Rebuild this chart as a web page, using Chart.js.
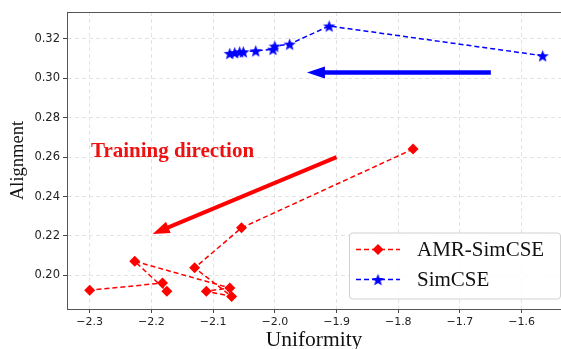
<!DOCTYPE html>
<html>
<head>
<meta charset="utf-8">
<script src="https://cdn.jsdelivr.net/npm/chart.js@4.4.0/dist/chart.umd.min.js"></script>
<style>
  html, body { margin: 0; padding: 0; background: #fff; overflow: hidden; }
  #wrap { width: 561px; height: 349px; }
</style>
</head>
<body>
<div id="wrap"><canvas id="uniformityChart" width="561" height="349"></canvas></div>
<script>
// values
const amrX = [-1.776, -2.054, -2.130, -2.070, -2.111, -2.073, -2.227, -2.175, -2.182, -2.300];
const amrY = [0.2641, 0.2241, 0.2038, 0.1893, 0.1919, 0.1936, 0.2071, 0.1919, 0.1961, 0.1924];
const simX = [-1.566, -1.912, -1.976, -2.000, -2.003, -2.031, -2.051, -2.057, -2.065, -2.073];
const simY = [0.3115, 0.3266, 0.3174, 0.3164, 0.3148, 0.3140, 0.3135, 0.3135, 0.3131, 0.3127];
const xTicks = [-2.3, -2.2, -2.1, -2.0, -1.9, -1.8, -1.7, -1.6];
const yTicks = [0.20, 0.22, 0.24, 0.26, 0.28, 0.30, 0.32];
const seriesNames = ['AMR-SimCSE', 'SimCSE'];

// annotation arrows: [tailX, tailY, tipX, tipY]
const redArrow = [-1.90, 0.260, -2.198, 0.221];
const blueArrow = [-1.65, 0.303, -1.948, 0.303];
const noteText = 'Training direction';
const notePos = [-2.298, 0.2600];

const RED = '#ff0000';
const BLUE = '#0000ff';

// filled five point star used as marker
function makeStar(r, color) {
  const c = document.createElement('canvas');
  const s = Math.ceil(r * 2 + 2);
  c.width = s; c.height = s;
  const g = c.getContext('2d');
  g.fillStyle = color;
  g.beginPath();
  for (let i = 0; i < 10; i++) {
    const rad = i % 2 === 0 ? r : r * 0.42;
    const a = -Math.PI / 2 + i * Math.PI / 5;
    const px = s / 2 + rad * Math.cos(a);
    const py = s / 2 + rad * Math.sin(a) + r * 0.1;
    if (i === 0) g.moveTo(px, py); else g.lineTo(px, py);
  }
  g.closePath();
  g.fill();
  return c;
}
const starImg = makeStar(6.5, BLUE);

function toPoints(xs, ys) {
  return xs.map((x, i) => ({ x: x, y: ys[i] }));
}

function fmt(v, d) {
  return (v < 0 ? '\u2212' : '') + Math.abs(v).toFixed(d);
}

function drawArrow(ctx, x0, y0, x1, y1, color, lw, headLen, headW) {
  const ang = Math.atan2(y1 - y0, x1 - x0);
  const bx = x1 - headLen * Math.cos(ang);
  const by = y1 - headLen * Math.sin(ang);
  ctx.save();
  ctx.strokeStyle = color;
  ctx.fillStyle = color;
  ctx.lineWidth = lw;
  ctx.beginPath();
  ctx.moveTo(x0, y0);
  ctx.lineTo(bx + 2 * Math.cos(ang), by + 2 * Math.sin(ang));
  ctx.stroke();
  ctx.beginPath();
  ctx.moveTo(x1, y1);
  ctx.lineTo(bx + headW / 2 * Math.sin(ang), by - headW / 2 * Math.cos(ang));
  ctx.lineTo(bx - headW / 2 * Math.sin(ang), by + headW / 2 * Math.cos(ang));
  ctx.closePath();
  ctx.fill();
  ctx.restore();
}

const extras = {
  id: 'extras',
  afterDatasetsDraw(chart) {
    const ctx = chart.ctx;
    const xs = chart.scales.x, ys = chart.scales.y;
    const a = chart.chartArea;

    // frame top edge (right edge is cut off in the reference)
    ctx.save();
    ctx.strokeStyle = '#555';
    ctx.lineWidth = 1;
    ctx.beginPath();
    ctx.moveTo(a.left, a.top + 0.5);
    ctx.lineTo(a.right, a.top + 0.5);
    ctx.stroke();
    ctx.restore();

    drawArrow(ctx, xs.getPixelForValue(redArrow[0]), ys.getPixelForValue(redArrow[1]),
      xs.getPixelForValue(redArrow[2]), ys.getPixelForValue(redArrow[3]), RED, 4, 17, 12);
    drawArrow(ctx, xs.getPixelForValue(blueArrow[0]), ys.getPixelForValue(blueArrow[1]),
      xs.getPixelForValue(blueArrow[2]), ys.getPixelForValue(blueArrow[3]), BLUE, 4.5, 18, 12);

    ctx.save();
    ctx.fillStyle = '#ee1111';
    ctx.font = 'bold 21px "Liberation Serif", "Times New Roman", serif';
    ctx.textBaseline = 'alphabetic';
    ctx.fillText(noteText, xs.getPixelForValue(notePos[0]), ys.getPixelForValue(notePos[1]));
    ctx.restore();

    // legend box
    const lx = 349, ly = 232.5, lw = 211, lh = 66;
    ctx.save();
    ctx.fillStyle = 'rgba(255,255,255,0.85)';
    ctx.strokeStyle = '#d0d0d0';
    ctx.lineWidth = 1;
    ctx.beginPath();
    ctx.roundRect(lx + 0.5, ly + 0.5, lw, lh, 3);
    ctx.fill();
    ctx.stroke();
    const rows = [249.5, 279.5];
    chart.data.datasets.forEach((ds, i) => {
      const y = rows[i];
      ctx.strokeStyle = ds.borderColor;
      ctx.lineWidth = 1.5;
      ctx.setLineDash([5, 3]);
      ctx.beginPath();
      ctx.moveTo(356, y);
      ctx.lineTo(400, y);
      ctx.stroke();
      ctx.setLineDash([]);
      if (i === 0) {
        ctx.fillStyle = RED;
        ctx.beginPath();
        ctx.moveTo(378, y - 5.5);
        ctx.lineTo(383.5, y);
        ctx.lineTo(378, y + 5.5);
        ctx.lineTo(372.5, y);
        ctx.closePath();
        ctx.fill();
      } else {
        ctx.drawImage(starImg, 378 - starImg.width / 2, y - starImg.height / 2);
      }
      ctx.fillStyle = '#111';
      ctx.font = '21px "Liberation Serif", "Times New Roman", serif';
      ctx.textBaseline = 'middle';
      ctx.fillText(ds.label, 417, y + 1);
    });
    ctx.restore();
  }
};

const ctx1 = document.getElementById('uniformityChart').getContext('2d');
const uniformityChart = new Chart(ctx1, {
  type: 'scatter',
  data: {
    datasets: [
      {
        label: seriesNames[0],
        data: toPoints(amrX, amrY),
        showLine: true,
        borderColor: RED,
        backgroundColor: RED,
        borderWidth: 1.5,
        borderDash: [5, 3],
        pointStyle: 'rectRot',
        pointRadius: 5.5,
        pointBorderWidth: 0,
        tension: 0
      },
      {
        label: seriesNames[1],
        data: toPoints(simX, simY),
        showLine: true,
        borderColor: BLUE,
        backgroundColor: BLUE,
        borderWidth: 1.5,
        borderDash: [5, 3],
        pointStyle: starImg,
        pointRadius: 6,
        tension: 0
      }
    ]
  },
  options: {
    responsive: false,
    animation: false,
    layout: { autoPadding: false, padding: { top: 12, right: 0, left: 0, bottom: 0 } },
    plugins: {
      legend: { display: false },
      tooltip: { enabled: false }
    },
    scales: {
      x: {
        type: 'linear',
        min: -2.3368,
        max: -1.5363,
        afterBuildTicks: (axis) => { axis.ticks = xTicks.map(v => ({ value: v })); },
        afterFit: (axis) => { axis.height = 40; },
        ticks: {
          color: '#222',
          padding: 3,
          maxRotation: 0,
          font: { family: '"DejaVu Sans"', size: 11 },
          callback: (v) => fmt(v, 1)
        },
        grid: { color: '#dcdcdc', lineWidth: 0.8, tickColor: '#444', tickLength: 4, tickWidth: 1 },
        border: { color: '#555', width: 1, dash: [4, 3] },
        title: {
          display: true,
          text: 'Uniformity',
          color: '#111',
          padding: { top: 0, bottom: -4 },
          font: { family: '"Liberation Serif", "Times New Roman", serif', size: 21.5 }
        }
      },
      y: {
        type: 'linear',
        min: 0.1829,
        max: 0.3337,
        afterBuildTicks: (axis) => { axis.ticks = yTicks.map(v => ({ value: v })); },
        afterFit: (axis) => { axis.width = 67; },
        ticks: {
          color: '#222',
          padding: 3,
          font: { family: '"DejaVu Sans"', size: 11.5 },
          callback: (v) => fmt(v, 2)
        },
        grid: { color: '#dcdcdc', lineWidth: 0.8, tickColor: '#444', tickLength: 4, tickWidth: 1 },
        border: { color: '#555', width: 1, dash: [4, 3] },
        title: {
          display: true,
          text: 'Alignment',
          color: '#111',
          padding: { top: 7, bottom: 0 },
          font: { family: '"Liberation Serif", "Times New Roman", serif', size: 18.5 }
        }
      }
    }
  },
  plugins: [extras]
});
</script>
</body>
</html>
